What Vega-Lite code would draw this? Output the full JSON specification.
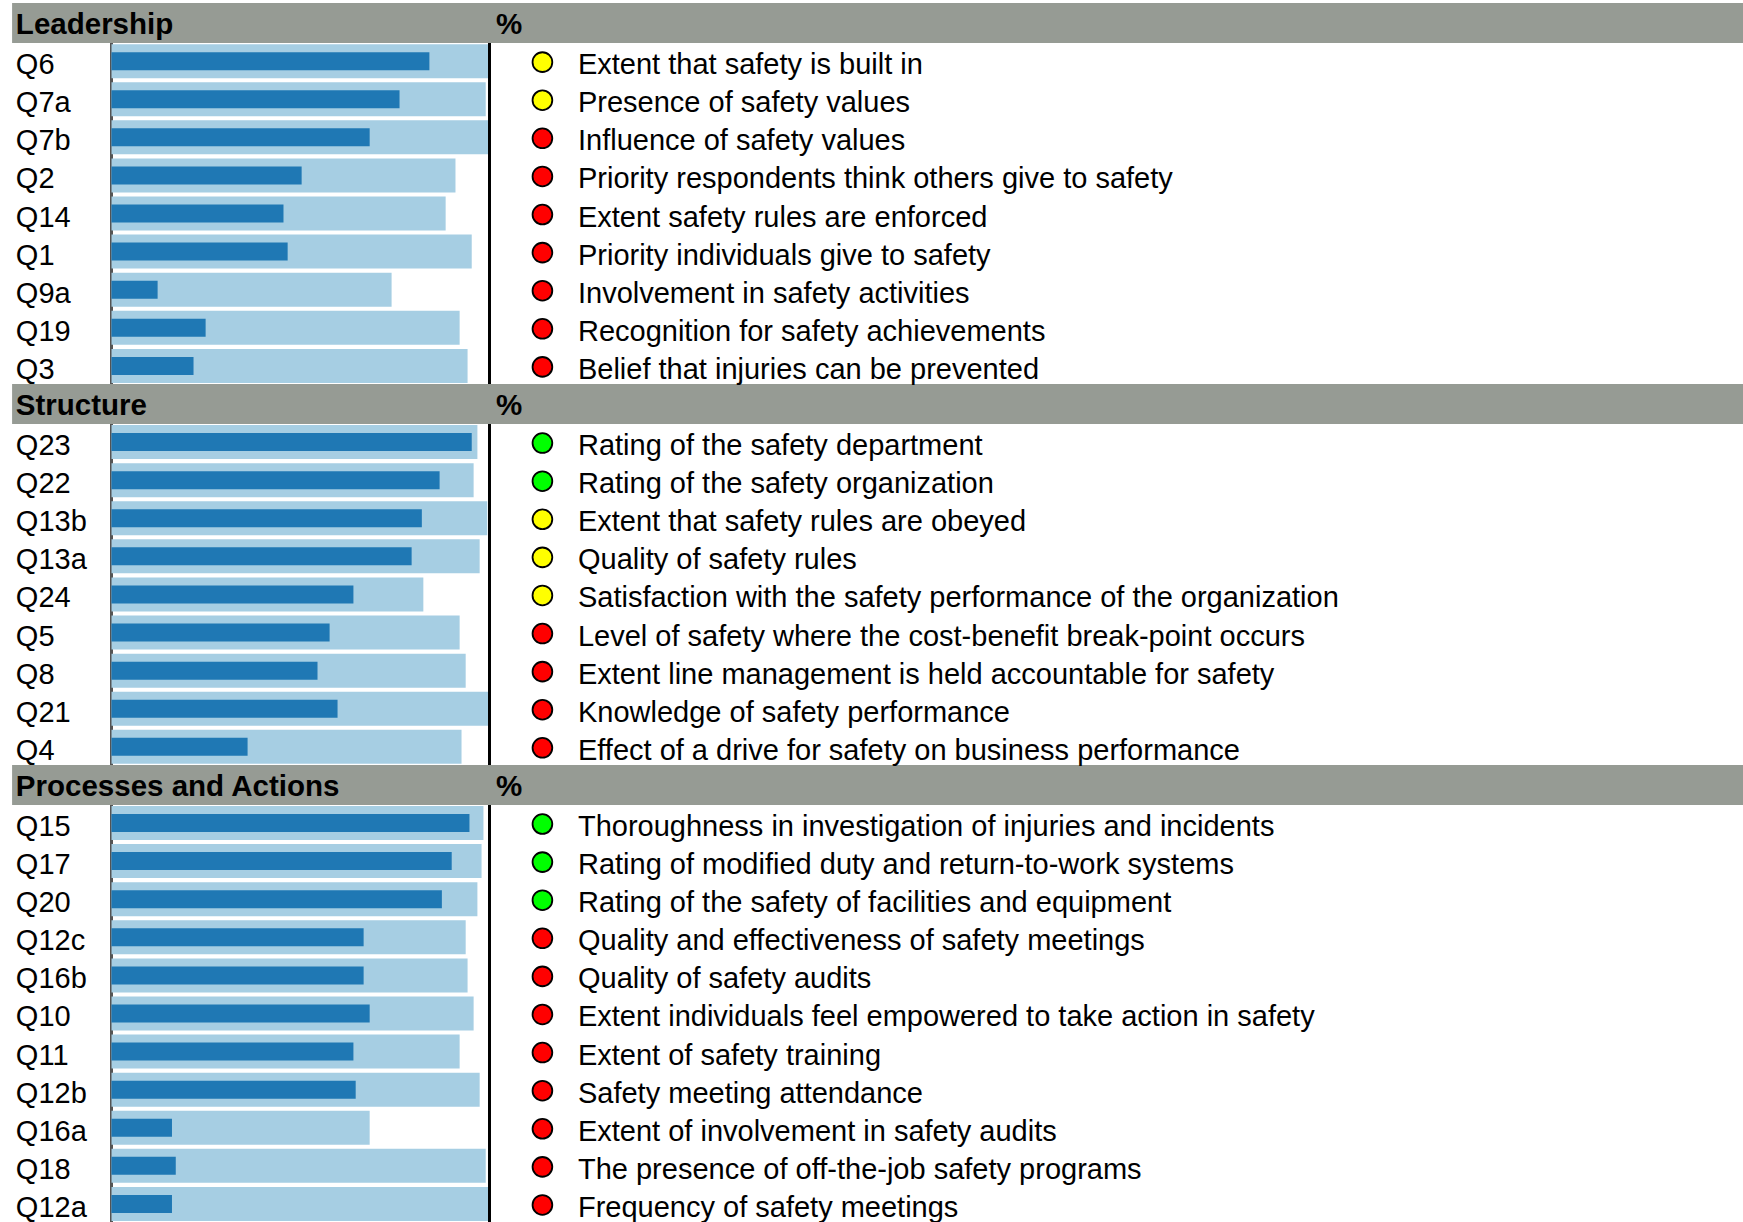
{
  "$schema": "https://vega.github.io/schema/vega-lite/v6.json",
  "width": 1743,
  "height": 1219,
  "autosize": {"type": "none"},
  "padding": {"top": 3, "left": 0, "right": 0, "bottom": 0},
  "background": "white",
  "config": {"view": {"stroke": null}, "font": "Liberation Sans"},
  "data": {"values": [
    {"order": 0, "kind": "header", "label": "Leadership", "unit": "%"},
    {"order": 1, "kind": "item", "label": "Q6", "score": 84.1, "benchmark": 100, "status": "yellow", "desc": "Extent that safety is built in"},
    {"order": 2, "kind": "item", "label": "Q7a", "score": 76.2, "benchmark": 99.0, "status": "yellow", "desc": "Presence of safety values"},
    {"order": 3, "kind": "item", "label": "Q7b", "score": 68.3, "benchmark": 100, "status": "red", "desc": "Influence of safety values"},
    {"order": 4, "kind": "item", "label": "Q2", "score": 50.3, "benchmark": 91.0, "status": "red", "desc": "Priority respondents think others give to safety"},
    {"order": 5, "kind": "item", "label": "Q14", "score": 45.5, "benchmark": 88.4, "status": "red", "desc": "Extent safety rules are enforced"},
    {"order": 6, "kind": "item", "label": "Q1", "score": 46.6, "benchmark": 95.3, "status": "red", "desc": "Priority individuals give to safety"},
    {"order": 7, "kind": "item", "label": "Q9a", "score": 12.2, "benchmark": 74.1, "status": "red", "desc": "Involvement in safety activities"},
    {"order": 8, "kind": "item", "label": "Q19", "score": 24.9, "benchmark": 92.1, "status": "red", "desc": "Recognition for safety achievements"},
    {"order": 9, "kind": "item", "label": "Q3", "score": 21.7, "benchmark": 94.2, "status": "red", "desc": "Belief that injuries can be prevented"},
    {"order": 10, "kind": "header", "label": "Structure", "unit": "%"},
    {"order": 11, "kind": "item", "label": "Q23", "score": 95.3, "benchmark": 96.8, "status": "green", "desc": "Rating of the safety department"},
    {"order": 12, "kind": "item", "label": "Q22", "score": 86.8, "benchmark": 95.8, "status": "green", "desc": "Rating of the safety organization"},
    {"order": 13, "kind": "item", "label": "Q13b", "score": 82.1, "benchmark": 99.4, "status": "yellow", "desc": "Extent that safety rules are obeyed"},
    {"order": 14, "kind": "item", "label": "Q13a", "score": 79.4, "benchmark": 97.4, "status": "yellow", "desc": "Quality of safety rules"},
    {"order": 15, "kind": "item", "label": "Q24", "score": 64.0, "benchmark": 82.5, "status": "yellow", "desc": "Satisfaction with the safety performance of the organization"},
    {"order": 16, "kind": "item", "label": "Q5", "score": 57.7, "benchmark": 92.1, "status": "red", "desc": "Level of safety where the cost-benefit break-point occurs"},
    {"order": 17, "kind": "item", "label": "Q8", "score": 54.5, "benchmark": 93.7, "status": "red", "desc": "Extent line management is held accountable for safety"},
    {"order": 18, "kind": "item", "label": "Q21", "score": 59.8, "benchmark": 100, "status": "red", "desc": "Knowledge of safety performance"},
    {"order": 19, "kind": "item", "label": "Q4", "score": 36.0, "benchmark": 92.6, "status": "red", "desc": "Effect of a drive for safety on business performance"},
    {"order": 20, "kind": "header", "label": "Processes and Actions", "unit": "%"},
    {"order": 21, "kind": "item", "label": "Q15", "score": 94.7, "benchmark": 98.4, "status": "green", "desc": "Thoroughness in investigation of injuries and incidents"},
    {"order": 22, "kind": "item", "label": "Q17", "score": 90.0, "benchmark": 97.9, "status": "green", "desc": "Rating of modified duty and return-to-work systems"},
    {"order": 23, "kind": "item", "label": "Q20", "score": 87.4, "benchmark": 96.8, "status": "green", "desc": "Rating of the safety of facilities and equipment"},
    {"order": 24, "kind": "item", "label": "Q12c", "score": 66.7, "benchmark": 93.7, "status": "red", "desc": "Quality and effectiveness of safety meetings"},
    {"order": 25, "kind": "item", "label": "Q16b", "score": 66.7, "benchmark": 94.2, "status": "red", "desc": "Quality of safety audits"},
    {"order": 26, "kind": "item", "label": "Q10", "score": 68.3, "benchmark": 95.8, "status": "red", "desc": "Extent individuals feel empowered to take action in safety"},
    {"order": 27, "kind": "item", "label": "Q11", "score": 64.0, "benchmark": 92.1, "status": "red", "desc": "Extent of safety training"},
    {"order": 28, "kind": "item", "label": "Q12b", "score": 64.6, "benchmark": 97.4, "status": "red", "desc": "Safety meeting attendance"},
    {"order": 29, "kind": "item", "label": "Q16a", "score": 16.0, "benchmark": 68.3, "status": "red", "desc": "Extent of involvement in safety audits"},
    {"order": 30, "kind": "item", "label": "Q18", "score": 17.0, "benchmark": 99.0, "status": "red", "desc": "The presence of off-the-job safety programs"},
    {"order": 31, "kind": "item", "label": "Q12a", "score": 16.0, "benchmark": 100, "status": "red", "desc": "Frequency of safety meetings"}
  ]},
  "encoding": {
    "y": {"field": "order", "type": "ordinal", "axis": null,
          "scale": {"range": [1, 1220], "paddingInner": 0, "paddingOuter": 0}}
  },
  "resolve": {"scale": {"x": "shared"}},
  "layer": [
    {
      "mark": {"type": "rule", "color": "#555555", "strokeWidth": 2},
      "encoding": {"x": {"datum": 0, "type": "quantitative", "scale": {"domain": [0, 100], "range": [111.5, 489.5], "nice": false, "zero": false}, "axis": null}, "y": null}
    },
    {
      "transform": [{"filter": "datum.kind === 'item'"}],
      "mark": {"type": "bar", "color": "#A6CEE3", "size": 34},
      "encoding": {"x": {"field": "benchmark", "type": "quantitative"}}
    },
    {
      "transform": [{"filter": "datum.kind === 'item'"}],
      "mark": {"type": "bar", "color": "#1F78B4", "size": 18},
      "encoding": {"x": {"field": "score", "type": "quantitative"}}
    },
    {
      "mark": {"type": "rule", "color": "black", "strokeWidth": 2.5},
      "encoding": {"x": {"datum": 100, "type": "quantitative"}, "y": null}
    },
    {
      "transform": [{"filter": "datum.kind === 'header'"}],
      "mark": {"type": "bar", "color": "#969B94", "size": 40},
      "encoding": {"x": {"datum": -26.3, "type": "quantitative"}, "x2": {"datum": 432}}
    },
    {
      "transform": [{"filter": "datum.kind === 'header'"}],
      "mark": {"type": "text", "align": "left", "baseline": "middle", "fontSize": 29.5, "fontWeight": "bold", "color": "black", "dy": 2},
      "encoding": {"x": {"datum": -25.3, "type": "quantitative"}, "text": {"field": "label"}}
    },
    {
      "transform": [{"filter": "datum.kind === 'header'"}],
      "mark": {"type": "text", "align": "left", "baseline": "middle", "fontSize": 29.5, "fontWeight": "bold", "color": "black", "dy": 2},
      "encoding": {"x": {"datum": 101.7, "type": "quantitative"}, "text": {"field": "unit"}}
    },
    {
      "transform": [{"filter": "datum.kind === 'item'"}],
      "mark": {"type": "text", "align": "left", "baseline": "middle", "fontSize": 29, "color": "black", "dy": 4},
      "encoding": {"x": {"datum": -25.3, "type": "quantitative"}, "text": {"field": "label"}}
    },
    {
      "transform": [{"filter": "datum.kind === 'item'"}],
      "mark": {"type": "point", "shape": "circle", "filled": true, "size": 390, "stroke": "black", "strokeWidth": 1.8, "opacity": 1, "yOffset": 1},
      "encoding": {
        "x": {"datum": 114.0, "type": "quantitative"},
        "fill": {"field": "status", "type": "nominal", "legend": null,
                 "scale": {"domain": ["green", "yellow", "red"], "range": ["#00FF00", "#FFFF00", "#FF0000"]}}
      }
    },
    {
      "transform": [{"filter": "datum.kind === 'item'"}],
      "mark": {"type": "text", "align": "left", "baseline": "middle", "fontSize": 29, "color": "black", "dy": 4},
      "encoding": {"x": {"datum": 123.4, "type": "quantitative"}, "text": {"field": "desc"}}
    }
  ]
}
